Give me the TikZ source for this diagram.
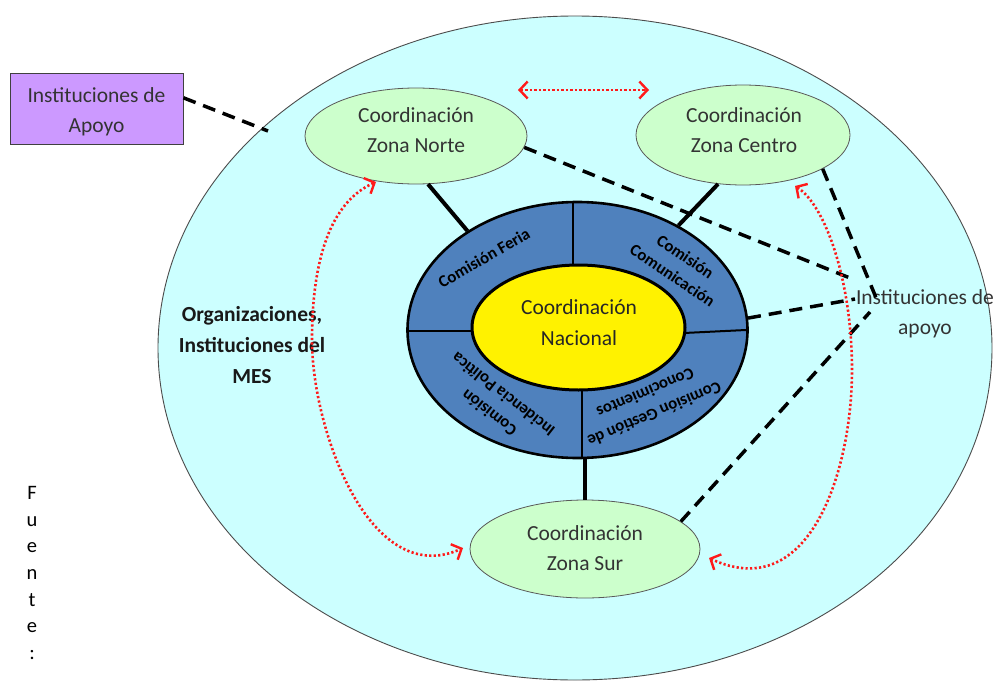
\documentclass[tikz,border=0pt]{standalone}
\usepackage{fontspec}
\setmainfont{Carlito}
\usetikzlibrary{arrows.meta,shapes.geometric}
\definecolor{bgc}{HTML}{CCFFFF}
\definecolor{zonec}{HTML}{CCFFCC}
\definecolor{ringc}{HTML}{4F81BD}
\definecolor{purpc}{HTML}{CC99FF}
\definecolor{redc}{HTML}{FF1A1A}
\begin{document}
\begin{tikzpicture}[x=1pt,y=-1pt,
  zone/.style={ellipse, draw=black!65, line width=0.8pt, fill=zonec, inner sep=0pt},
  plain/.style={align=center, font=\fontsize{21.5}{30}\selectfont, text=black!80, inner sep=0pt},
  solidcon/.style={line width=4pt},
  dashcon/.style={line width=3.5pt, dash pattern=on 13pt off 8pt},
  divider/.style={line width=2pt},
  barb/.tip={Straight Barb[length=8pt,width=17pt,line width=2.4pt]},
  redarr/.style={redc, line width=2.6pt, dash pattern=on 2.2pt off 2.3pt, barb-barb},
  ringtxt/.style={font=\bfseries\fontsize{16.8}{23}\selectfont, align=center, inner sep=0pt},
]
\useasboundingbox[fill=white] (0,0) rectangle (993,680);

% outer ellipse
\node[ellipse, draw=black!70, line width=0.9pt, fill=bgc, inner sep=0pt,
  minimum width=834pt, minimum height=664pt] (outer) at (575,348) {};

% ring and national coordination
\node[ellipse, draw=black, line width=2.6pt, fill=ringc, inner sep=0pt,
  minimum width=340pt, minimum height=256pt] (ring) at (577.5,330) {};
\draw[divider] (573,203) -- (573,266);
\draw[divider] (409,331) -- (473,331);
\draw[divider] (684,333) -- (746,330);
\draw[divider] (582,389) -- (582,457);
\node[ellipse, draw=black, line width=3pt, fill=yellow, inner sep=0pt,
  minimum width=213pt, minimum height=125pt] (nac) at (578.5,327.5) {};
\node[plain, text=black!85, font=\fontsize{21.5}{31}\selectfont] (nactxt) at (579,322.5) {Coordinación\\Nacional};

\node[ringtxt, rotate=30] (feria) at (484,258) {Comisión Feria};
\node[ringtxt, rotate=-34] (comu) at (679,266) {Comisión\\Comunicación};
\node[ringtxt, rotate=142] (inci) at (496,404) {Comisión\\Incidencia Política};
\node[ringtxt, rotate=203] (gest) at (650,404) {Comisión Gestión de\\Conocimientos};

% zones
\node[zone, minimum width=222pt, minimum height=96pt] (norte) at (416,136) {};
\node[plain] (nortetxt) at (416,130) {Coordinación\\Zona Norte};
\node[zone, minimum width=214pt, minimum height=100pt] (centro) at (743,135) {};
\node[plain] (centrotxt) at (744,130) {Coordinación\\Zona Centro};
\node[zone, minimum width=230pt, minimum height=98pt] (sur) at (585,549) {};
\node[plain] (surtxt) at (585,548) {Coordinación\\Zona Sur};

% boxes and labels
\node[draw=black!75, fill=purpc, line width=1pt, minimum width=173pt, minimum height=71pt] (box) at (96.5,108.5) {};
\node[plain] (boxtxt) at (96.5,112) {Instituciones de\\Apoyo};
\node[plain] (inst) at (925,314) {Instituciones de\\apoyo};
\node[align=center, font=\bfseries\fontsize{21.5}{31}\selectfont, text=black!90, inner sep=0pt] (org) at (252,345) {Organizaciones,\\Instituciones del\\MES};
\node[align=center, font=\fontsize{20.5}{26.7}\selectfont, inner sep=0pt] (fuente) at (32,573) {F\\u\\e\\n\\t\\e\\:};

% solid connectors
\draw[solidcon] (norte.-76) -- (ring.138.4);
\draw[solidcon] (centro.-117.5) -- (ring.46);
\draw[solidcon] (ring.south -| sur.north) -- (sur.north);

% dashed connectors
\coordinate (bxend) at (268,131);
\coordinate (i1) at (855,280);
\coordinate (i2) at (877,300);
\coordinate (i3) at (855,299);
\coordinate (i4) at (870,312);
\draw[dashcon] (box.7) -- (bxend);
\draw[dashcon] (norte.-6) -- (i1);
\draw[dashcon] (centro.-23) -- (i2);
\draw[dashcon] (ring.4) -- (i3);
\draw[dashcon] (sur.16) -- (i4);

% red dotted arrows
\coordinate (ra1) at (518,90);
\coordinate (ra2) at (649,90);
\draw[redarr] (ra1) -- (ra2);
\coordinate (la1) at (376,182);
\coordinate (la2) at (463,548);
\draw[redarr] (la1) .. controls (335,200) and (312,250) .. (312,340)
  .. controls (312,430) and (370,590) .. (la2);
\coordinate (rb1) at (795,186);
\coordinate (rb2) at (709,558);
\draw[redarr] (rb1) .. controls (825,205) and (852,280) .. (852,370)
  .. controls (852,470) and (810,605) .. (rb2);
\end{tikzpicture}
\end{document}
